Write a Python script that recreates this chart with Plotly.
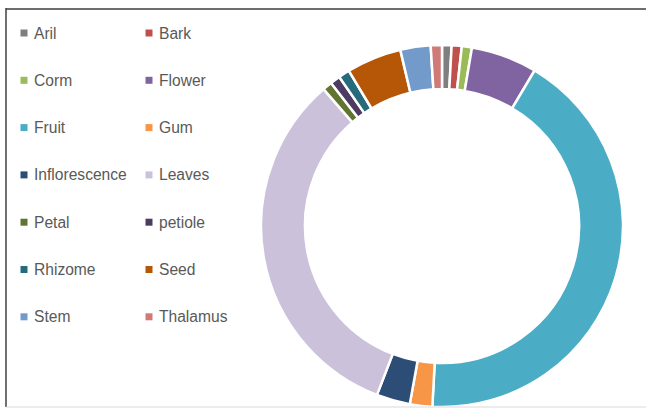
import plotly.graph_objects as go

labels = ["Aril", "Bark", "Corm", "Flower", "Fruit", "Gum", "Inflorescence",
          "Leaves", "Petal", "petiole", "Rhizome", "Seed", "Stem", "Thalamus"]
values = [0.85, 0.9, 0.9, 5.9, 42.3, 2.0, 3.0, 32.8, 0.85, 0.9, 1.0, 4.9, 2.7, 1.0]
colors = ["#7F7F7F", "#C0504D", "#9BBB59", "#8064A2", "#4BACC6", "#F79646",
          "#2C4D75", "#CCC1DA", "#5F7530", "#4D3B62", "#276A7C", "#B65708",
          "#729ACA", "#D07A78"]

W, H = 646, 408
cx, cy, R = 442, 226, 181

fig = go.Figure()
fig.add_trace(go.Pie(
    labels=labels, values=values, sort=False, direction="clockwise", rotation=0,
    hole=0.757, marker=dict(colors=colors, line=dict(color="white", width=2.5)),
    textinfo="none", showlegend=False,
    domain=dict(x=[(cx - R) / W, (cx + R) / W], y=[(H - cy - R) / H, (H - cy + R) / H]),
))

shapes = []
annotations = []
col_x = [24, 149]
row_y0, row_dy = 33, 47.3
for i, (lab, col) in enumerate(zip(labels, colors)):
    c, r = i % 2, i // 2
    x = col_x[c]
    y = row_y0 + r * row_dy
    shapes.append(dict(type="rect", xref="paper", yref="paper",
                       x0=(x - 3.5) / W, x1=(x + 3.5) / W,
                       y0=1 - (y + 3.5) / H, y1=1 - (y - 3.5) / H,
                       fillcolor=col, line=dict(width=0)))
    annotations.append(dict(text=lab, xref="paper", yref="paper",
                            x=(x + 8) / W, y=1 - y / H, xanchor="left", yanchor="middle",
                            showarrow=False, font=dict(family="Liberation Sans", size=15.6, color="#595959")))

# chart frame
shapes.append(dict(type="line", xref="paper", yref="paper", x0=6 / W, x1=1, y0=1 - 9 / H, y1=1 - 9 / H,
                   line=dict(color="#6E6E6E", width=2)))
shapes.append(dict(type="line", xref="paper", yref="paper", x0=6 / W, x1=6 / W, y0=1 - 8 / H, y1=1 - 407 / H,
                   line=dict(color="#404040", width=1.5)))
shapes.append(dict(type="line", xref="paper", yref="paper", x0=6 / W, x1=1, y0=1 - 407 / H, y1=1 - 407 / H,
                   line=dict(color="#D9D9D9", width=1)))

fig.update_layout(width=W, height=H, margin=dict(l=0, r=0, t=0, b=0),
                  paper_bgcolor="white", plot_bgcolor="white",
                  shapes=shapes, annotations=annotations)
fig.write_html("out.html")
